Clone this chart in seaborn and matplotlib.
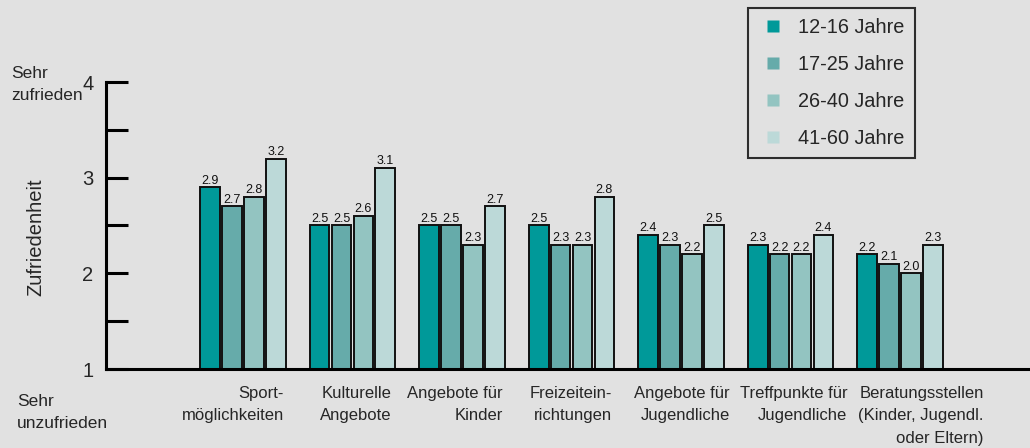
import numpy as np
import pandas as pd
import matplotlib
matplotlib.use("Agg")
import matplotlib.pyplot as plt
import matplotlib.transforms as mtransforms
from matplotlib.lines import Line2D
import seaborn as sns

categories = ["Sport-\nmöglichkeiten", "Kulturelle\nAngebote", "Angebote für\nKinder",
              "Freizeitein-\nrichtungen", "Angebote für\nJugendliche", "Treffpunkte für\nJugendliche",
              "Beratungsstellen\n(Kinder, Jugendl.\noder Eltern)"]
groups = ["12-16 Jahre", "17-25 Jahre", "26-40 Jahre", "41-60 Jahre"]
v_12_16 = [2.9, 2.5, 2.5, 2.5, 2.4, 2.3, 2.2]
v_17_25 = [2.7, 2.5, 2.5, 2.3, 2.3, 2.2, 2.1]
v_26_40 = [2.8, 2.6, 2.3, 2.3, 2.2, 2.2, 2.0]
v_41_60 = [3.2, 3.1, 2.7, 2.8, 2.5, 2.4, 2.3]
colors = ["#009999", "#66abaa", "#93c4c1", "#bcd9d8"]
bg = "#e1e1e1"

rows = []
for g, vals in zip(groups, [v_12_16, v_17_25, v_26_40, v_41_60]):
    for c, v in zip(categories, vals):
        rows.append({"Kategorie": c, "Gruppe": g, "Wert": v})
df = pd.DataFrame(rows)

sns.set_theme(style="white")
plt.rcParams["font.family"] = ["Liberation Sans", "DejaVu Sans"]

fig = plt.figure(figsize=(10.30, 4.48), dpi=100, facecolor=bg)
ax = fig.add_axes([106/1030, 79/448, 924/1030, 287/448])
ax.set_facecolor(bg)

sns.barplot(data=df, x="Kategorie", y="Wert", hue="Gruppe", order=categories,
            hue_order=groups, palette=colors, saturation=1, width=0.8, gap=0.1,
            edgecolor="#111111", linewidth=1.4, legend=False, ax=ax, errorbar=None)

for cont in ax.containers:
    ax.bar_label(cont, fmt="%.1f", fontsize=9, padding=0.5, color="#111111")

ax.set_ylim(1, 4)
ax.set_xlim(-1.251, 7.187)
ax.set_yticks([1, 1.5, 2, 2.5, 3, 3.5, 4])
ax.set_yticklabels(["1", "", "2", "", "3", "", "4"], fontsize=14.5)
ax.tick_params(axis="y", direction="in", length=16, width=2.2, color="black", pad=9, left=True)
ax.tick_params(axis="x", length=0, pad=12, labelsize=12)
x_shift_px = [-10, 3, -7, -1, 1, 3, 21]
for lbl, dx in zip(ax.get_xticklabels(), x_shift_px):
    lbl.set_multialignment("right")
    lbl.set_linespacing(1.65)
    lbl.set_transform(lbl.get_transform() + mtransforms.Affine2D().translate(dx, 0))
for s in ["top", "right"]:
    ax.spines[s].set_visible(False)
ax.spines["left"].set_linewidth(2.2)
ax.spines["bottom"].set_linewidth(2.2)
ax.spines["left"].set_color("black")
ax.spines["bottom"].set_color("black")
ax.set_xlabel("")
ax.set_ylabel("Zufriedenheit", fontsize=14.5)
ax.yaxis.set_label_coords((45 - 106) / 924, (448 - 237 - 79) / 287)

fig.text(11/1030, 1 - 66/448, "Sehr\nzufrieden", fontsize=12.5, va="top", ha="left", linespacing=1.55)
fig.text(17/1030, 1 - 394/448, "Sehr\nunzufrieden", fontsize=12.5, va="top", ha="left", linespacing=1.55)

handles = [Line2D([], [], marker="s", linestyle="none", markersize=8.6,
                  markerfacecolor=c, markeredgecolor="none") for c in colors]
leg = fig.legend(handles, groups, loc="upper left", bbox_to_anchor=(748/1030, 1 - 8/448),
                 fontsize=14.3, frameon=True, fancybox=False, handlelength=1.5, handleheight=0.8,
                 handletextpad=0.5, labelspacing=0.9, borderpad=0.52, borderaxespad=0)
leg.get_frame().set_edgecolor("black")
leg.get_frame().set_linewidth(1.5)
leg.get_frame().set_facecolor(bg)

fig.savefig("out.png", dpi=100, facecolor=bg)
